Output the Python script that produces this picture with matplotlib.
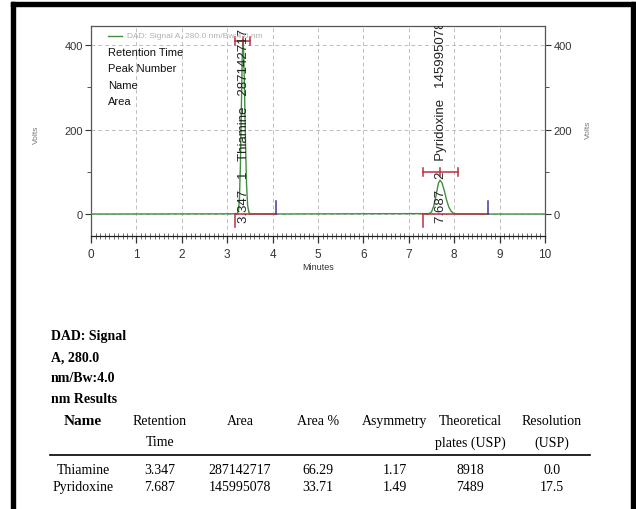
import matplotlib
matplotlib.use('Agg')
import matplotlib.pyplot as plt
import matplotlib.ticker as mticker
from matplotlib.patches import Rectangle
from matplotlib.lines import Line2D

# ---------------- data ----------------
signal_time = [0.0, 3.22, 3.25, 3.27, 3.29, 3.31, 3.33, 3.347, 3.365, 3.385, 3.405,
               3.425, 3.45, 3.48, 3.52, 7.45, 7.50, 7.55, 7.60, 7.65, 7.687, 7.73,
               7.78, 7.83, 7.88, 7.93, 7.98, 8.04, 10.0]
signal_volts = [0, 0.5, 10, 38, 113, 237, 367, 412, 376, 275, 158,
                73, 20, 3, 0, 1, 5, 19, 44, 72, 80, 74,
                56, 34, 17, 7, 2, 0, 0]

peak_names = ["Thiamine", "Pyridoxine"]
peak_numbers = [1, 2]
retention_times = [3.347, 7.687]
peak_areas = [287142717, 145995078]
baseline_start = [3.18, 7.31]
baseline_end = [4.08, 8.74]
width_left = [3.18, 7.31]
width_right = [3.51, 8.09]
width_level = [410, 99]

x_ticks = [0, 1, 2, 3, 4, 5, 6, 7, 8, 9, 10]
y_ticks = [0, 200, 400]

legend_lines = ["Retention Time", "Peak Number", "Name", "Area"]
signal_title = "DAD: Signal A, 280.0 nm/Bw:4.0 nm"
results_title = ["DAD: Signal", "A, 280.0", "nm/Bw:4.0", "nm Results"]

table_headers = ["Name", "Retention\nTime", "Area", "Area %", "Asymmetry",
                 "Theoretical\nplates (USP)", "Resolution\n(USP)"]
area_percent = ["66.29", "33.71"]
asymmetry = ["1.17", "1.49"]
plates = ["8918", "7489"]
resolution = ["0.0", "17.5"]

# ---------------- figure ----------------
W, H = 636, 510
fig = plt.figure(figsize=(W / 100, H / 100), dpi=100)

def fx(px):
    return px / W

def fy(py):
    return 1 - py / H

NARROW = ['Liberation Sans Narrow', 'Liberation Sans', 'DejaVu Sans']
ARIAL = ['Liberation Sans', 'DejaVu Sans']
SERIF = ['Liberation Serif', 'DejaVu Serif']

# black frame of the screenshot
fig.patches.append(Rectangle((fx(11), fy(7)), fx(635) - fx(11), 4 / H,
                             transform=fig.transFigure, color='black', zorder=0))
fig.patches.append(Rectangle((fx(11), 0), 4 / W, fy(3),
                             transform=fig.transFigure, color='black', zorder=0))
fig.patches.append(Rectangle((fx(631), 0), 4 / W, fy(3),
                             transform=fig.transFigure, color='black', zorder=0))

# ---------------- chromatogram ----------------
ax = fig.add_axes([fx(91), fy(237), fx(545) - fx(91), fy(27) - fy(237)])
ax.set_xlim(0, 10)
ax.set_ylim(-52, 445)

green = '#3f8f3f'
red = '#b8323f'
blue = '#3a3aa0'

ax.plot(signal_time, signal_volts, color=green, lw=1.0, zorder=3)

for i in range(len(peak_names)):
    ax.plot([baseline_start[i], baseline_end[i]], [0, 0], color=red, lw=1.1, zorder=4)
    ax.plot([baseline_start[i], baseline_start[i]], [0, -30], color=red, lw=1.1, zorder=4)
    ax.plot([baseline_end[i], baseline_end[i]], [0, 32], color=blue, lw=1.1, zorder=4)
    ax.plot([width_left[i], width_right[i]], [width_level[i], width_level[i]],
            color=red, lw=1.1, zorder=4)
    for xx in (width_left[i], width_right[i], retention_times[i]):
        ax.plot([xx, xx], [width_level[i] - 10, width_level[i] + 10],
                color=red, lw=1.1, zorder=4)
    label = f"{retention_times[i]:.3f}   {peak_numbers[i]}   {peak_names[i]}   {peak_areas[i]}"
    ax.text(retention_times[i] + 0.03, -18, label, rotation=90, ha='center',
            va='bottom', fontsize=9.5, family=ARIAL, color='#222222',
            clip_on=True, zorder=5)

ax.set_xticks(x_ticks)
ax.xaxis.set_minor_locator(mticker.MultipleLocator(0.1))
ax.set_yticks(y_ticks)
ax.yaxis.set_minor_locator(mticker.MultipleLocator(100))
ax.tick_params(axis='x', which='major', direction='out', length=5, width=0.9,
               labelsize=8.5, pad=4, colors='#333333')
ax.tick_params(axis='x', which='minor', direction='inout', length=4, width=0.6,
               colors='#555555')
ax.tick_params(axis='y', which='both', left=True, right=True, labelleft=True,
               labelright=True, direction='out', colors='#333333')
ax.tick_params(axis='y', which='major', length=4, width=0.8, labelsize=8, pad=2)
ax.tick_params(axis='y', which='minor', length=3, width=0.6)
for lab in ax.get_xticklabels() + ax.get_yticklabels():
    lab.set_family(NARROW)
for s in ax.spines.values():
    s.set_color('#555555')
    s.set_linewidth(0.9)
ax.spines['bottom'].set_color('#222222')
ax.grid(True, which='major', ls=(0, (4, 3)), color='#bdbdbd', lw=0.7, zorder=1)

fig.text(fx(318), fy(268), "Minutes", ha='center', va='center', fontsize=6.5,
         family=NARROW, color='#333333')
fig.text(fx(36), fy(135), "Volts", ha='center', va='center', rotation=90,
         fontsize=6, family=NARROW, color='#777777')
fig.text(fx(588), fy(130), "Volts", ha='center', va='center', rotation=90,
         fontsize=6, family=NARROW, color='#777777')

# legend block
fig.add_artist(Line2D([fx(108), fx(122)], [fy(37), fy(37)], color=green, lw=1.0,
                      transform=fig.transFigure))
fig.text(fx(127), fy(37), signal_title, ha='left', va='center', fontsize=6,
         family=NARROW, color='#b0b0b0')
for k, t in enumerate(legend_lines):
    fig.text(fx(108), fy(53 + 16.5 * k), t, ha='left', va='center', fontsize=8,
             family=NARROW, color='#111111')

# ---------------- results table ----------------
for k, t in enumerate(results_title):
    fig.text(fx(51), fy(337 + 21 * k), t, ha='left', va='center', fontsize=10,
             family=SERIF, fontweight='bold', color='black')

col_x = [83, 160, 240, 318, 395, 470, 552]
for j, h in enumerate(table_headers):
    parts = h.split("\n")
    for k, p in enumerate(parts):
        fig.text(fx(col_x[j]), fy(422 + 21 * k), p, ha='center', va='center',
                 fontsize=11 if j == 0 else 10, family=SERIF,
                 fontweight='bold' if j == 0 else 'normal', color='black')

fig.add_artist(Line2D([fx(50), fx(590)], [fy(456), fy(456)], color='black', lw=1.2,
                      transform=fig.transFigure))

for i in range(len(peak_names)):
    row = [peak_names[i], f"{retention_times[i]:.3f}", str(peak_areas[i]),
           area_percent[i], asymmetry[i], plates[i], resolution[i]]
    for j, v in enumerate(row):
        fig.text(fx(col_x[j]), fy(471 + 17 * i), v, ha='center', va='center',
                 fontsize=10, family=SERIF, color='black')

fig.savefig("out.png", dpi=100)
